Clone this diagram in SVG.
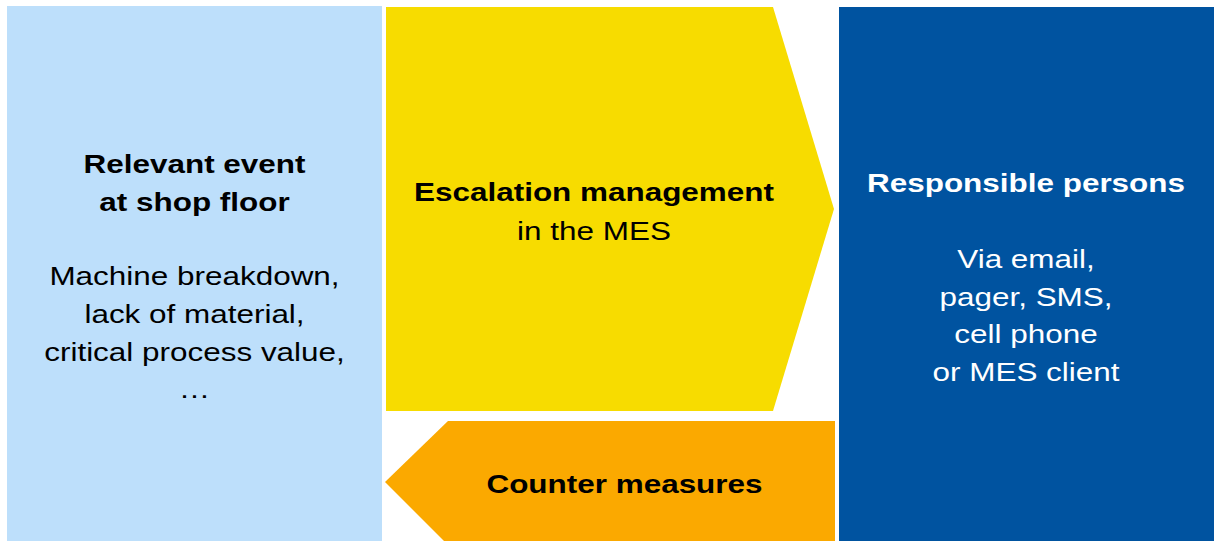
<svg xmlns="http://www.w3.org/2000/svg" width="1219" height="541" viewBox="0 0 1219 541">
<style>
text{font-family:"Liberation Sans",Arial,sans-serif;font-size:26px;text-anchor:middle}
.b{font-weight:bold}
.w{fill:#ffffff}
.k{fill:#000000}
</style>
<rect width="1219" height="541" fill="#ffffff"/>
<g id="event">
<rect x="7" y="6" width="375" height="535" fill="#BDDFFB"/>
<g transform="translate(194.5,0) scale(1.21,1)">
<text class="b k" x="0" y="173">Relevant event</text>
<text class="b k" x="0" y="211">at shop floor</text>
<text class="k" x="0" y="285">Machine breakdown,</text>
<text class="k" x="0" y="323">lack of material,</text>
<text class="k" x="0" y="361">critical process value,</text>
<text class="k" x="0" y="398">…</text>
</g>
</g>
<g id="escalation">
<polygon points="386,7 773,7 834,209 773,411 386,411" fill="#F7DC00"/>
<g transform="translate(594,0) scale(1.21,1)">
<text class="b k" x="0" y="201">Escalation management</text>
<text class="k" x="0" y="240">in the MES</text>
</g>
</g>
<g id="persons">
<rect x="839" y="7" width="375" height="534" fill="#0053A0"/>
<g transform="translate(1026,0) scale(1.21,1)">
<text class="b w" x="0" y="192">Responsible persons</text>
<text class="w" x="0" y="268">Via email,</text>
<text class="w" x="0" y="306">pager, SMS,</text>
<text class="w" x="0" y="343">cell phone</text>
<text class="w" x="0" y="381">or MES client</text>
</g>
</g>
<g id="counter">
<polygon points="448,421 835,421 835,541 444,541 385,482" fill="#FBA900"/>
<g transform="translate(624.5,0) scale(1.21,1)">
<text class="b k" x="0" y="493">Counter measures</text>
</g>
</g>
<g id="connectors"></g>
</svg>
